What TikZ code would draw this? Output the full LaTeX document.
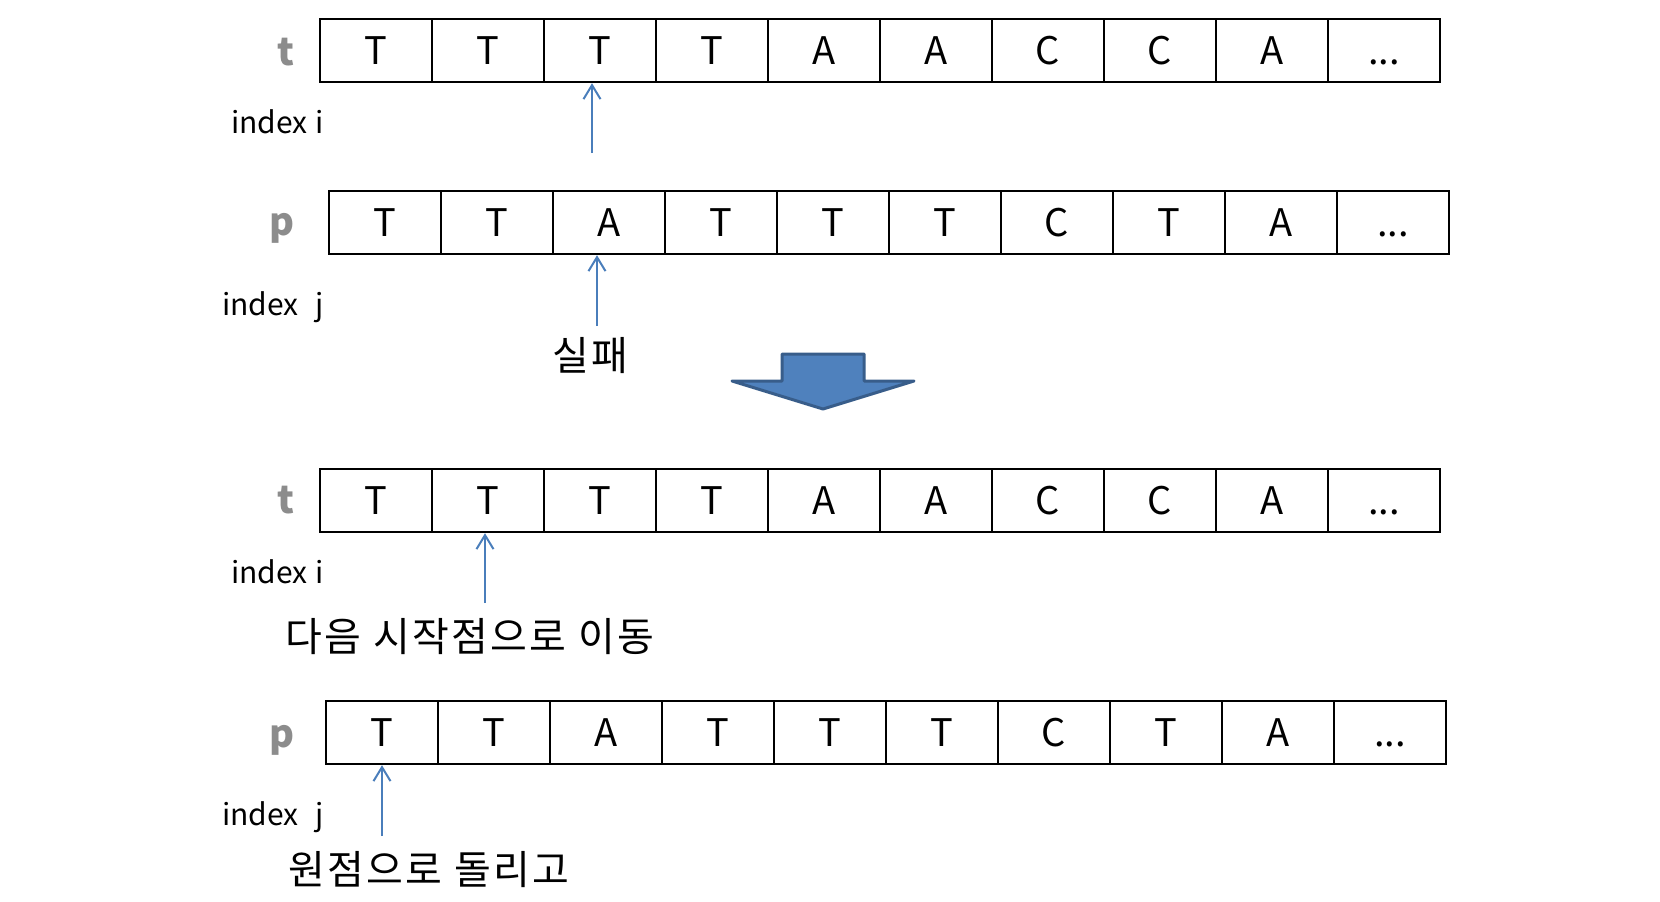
\documentclass[tikz,border=0pt]{standalone}
\usepackage{fontspec}
\setmainfont{Noto Sans CJK KR}
\newfontfamily\korfont[LetterSpace=5.5,WordSpace=1.1]{Noto Sans CJK KR}
\usetikzlibrary{arrows.meta}
\definecolor{lblgray}{RGB}{140,140,140}
\definecolor{ptrblue}{RGB}{74,126,187}
\definecolor{bigfill}{RGB}{79,129,189}
\definecolor{bigdraw}{RGB}{56,93,138}
\newcommand\ddd{...}
\tikzset{
  cell/.style={draw=black, line width=2.2pt, minimum width=112pt, minimum height=63pt,
    inner sep=0pt, anchor=north west, font=\fontsize{38}{40}\selectfont,
    text height=28pt, text depth=0pt},
  lbl/.style={inner sep=0pt, anchor=base, text=lblgray, font=\fontsize{38}{40}\selectfont\bfseries},
  idx/.style={inner sep=0pt, anchor=base east, font=\fontsize{30}{32}\selectfont},
  kor/.style={inner sep=0pt, font=\korfont\fontsize{40}{44}\selectfont},
  ptr/.style={draw=ptrblue, line width=2pt, -{Straight Barb[length=14pt,width=17pt,line width=2pt]}},
  bigarrow/.style={fill=bigfill, draw=bigdraw, line width=3pt, line join=round}
}
\begin{document}
\begin{tikzpicture}[x=1pt,y=-1pt]
\useasboundingbox (0,0) rectangle (1660,902);
% row 1: text t
\foreach \L [count=\k] in {T,T,T,T,A,A,C,C,A,\ddd}
  \node[cell] (r1c\k) at ({319+(\k-1)*112},18) {\L};
% row 2: pattern p
\foreach \L [count=\k] in {T,T,A,T,T,T,C,T,A,\ddd}
  \node[cell] (r2c\k) at ({328+(\k-1)*112},190) {\L};
% row 3: text t
\foreach \L [count=\k] in {T,T,T,T,A,A,C,C,A,\ddd}
  \node[cell] (r3c\k) at ({319+(\k-1)*112},468) {\L};
% row 4: pattern p
\foreach \L [count=\k] in {T,T,A,T,T,T,C,T,A,\ddd}
  \node[cell] (r4c\k) at ({325+(\k-1)*112},700) {\L};

\node[lbl] (t1) at (286,65) {t};
\node[lbl] (p1) at (282,235) {p};
\node[lbl] (t2) at (286,513) {t};
\node[lbl] (p2) at (282,747) {p};

\node[idx] (i1) at (324,133) {index\hspace{8pt}i};
\node[idx] (j1) at (324,315) {index\hspace{17pt}j};
\node[idx] (i2) at (324,583) {index\hspace{8pt}i};
\node[idx] (j2) at (324,825) {index\hspace{17pt}j};

\coordinate (a1) at (592,153);
\coordinate (a2) at (597,326);
\coordinate (a3) at (485,603);
\coordinate (a4) at (382,836);
\draw[ptr] (a1) -- (a1 |- r1c3.south);
\draw[ptr] (a2) -- (a2 |- r2c3.south);
\draw[ptr] (a3) -- (a3 |- r3c2.south);
\draw[ptr] (a4) -- (a4 |- r4c1.south);

\node[kor, anchor=center] (fail) at (590,356) {실패};
\node[kor, anchor=west] (next) at (285,637) {다음 시작점으로 이동};
\node[kor, anchor=west] (reset) at (288,870) {원점으로 돌리고};

\draw[bigarrow] (782,354) -- (864,354) -- (864,381) -- (914,381) -- (823,409)
  -- (732,381) -- (782,381) -- cycle;
\end{tikzpicture}
\end{document}
